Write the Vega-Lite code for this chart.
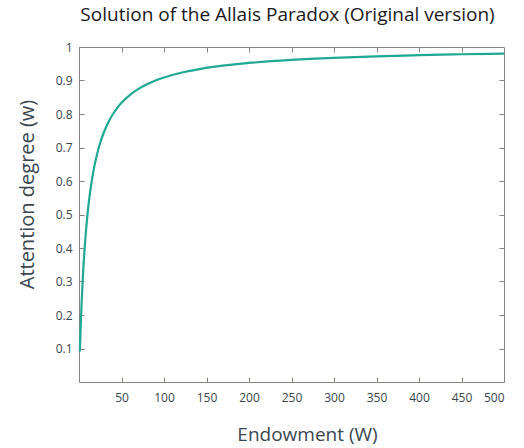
{
  "$schema": "https://vega.github.io/schema/vega-lite/v6.json",
  "autosize": "none",
  "width": 425,
  "height": 335,
  "padding": {"left": 79, "top": 47, "right": 20, "bottom": 66},
  "background": "white",
  "config": {
    "view": {"stroke": "#8a8380", "strokeWidth": 1},
    "font": "Open Sans"
  },
  "title": {
    "text": "Solution of the Allais Paradox (Original version)",
    "fontSize": 19,
    "fontWeight": "normal",
    "color": "#1a1a1a",
    "font": "Open Sans",
    "anchor": "middle",
    "offset": 16,
    "dx": -4
  },
  "data": {
    "values": [
      {"W": 1, "w": 0.0909},
      {"W": 2, "w": 0.1667},
      {"W": 3, "w": 0.2308},
      {"W": 4, "w": 0.2857},
      {"W": 5, "w": 0.3333},
      {"W": 6, "w": 0.375},
      {"W": 7, "w": 0.4118},
      {"W": 8, "w": 0.4444},
      {"W": 9, "w": 0.4737},
      {"W": 10, "w": 0.5},
      {"W": 12, "w": 0.5455},
      {"W": 14, "w": 0.5833},
      {"W": 16, "w": 0.6154},
      {"W": 18, "w": 0.6429},
      {"W": 20, "w": 0.6667},
      {"W": 23, "w": 0.697},
      {"W": 26, "w": 0.7222},
      {"W": 30, "w": 0.75},
      {"W": 35, "w": 0.7778},
      {"W": 40, "w": 0.8},
      {"W": 45, "w": 0.8182},
      {"W": 50, "w": 0.8333},
      {"W": 60, "w": 0.8571},
      {"W": 70, "w": 0.875},
      {"W": 80, "w": 0.8889},
      {"W": 90, "w": 0.9},
      {"W": 100, "w": 0.9091},
      {"W": 120, "w": 0.9231},
      {"W": 140, "w": 0.9333},
      {"W": 160, "w": 0.9412},
      {"W": 180, "w": 0.9474},
      {"W": 200, "w": 0.9524},
      {"W": 250, "w": 0.9615},
      {"W": 300, "w": 0.9677},
      {"W": 350, "w": 0.9722},
      {"W": 400, "w": 0.9756},
      {"W": 450, "w": 0.9783},
      {"W": 500, "w": 0.9804}
    ]
  },
  "resolve": {"axis": {"x": "independent", "y": "independent"}},
  "layer": [
    {
      "mark": {"type": "line", "color": "#1fa893", "strokeWidth": 2.2, "interpolate": "monotone"},
      "encoding": {
        "x": {
          "field": "W", "type": "quantitative",
          "scale": {"domain": [0, 500], "nice": false, "zero": false},
          "axis": {
            "title": "Endowment (W)",
            "values": [50, 100, 150, 200, 250, 300, 350, 400, 450, 500],
            "grid": false, "domain": false,
            "tickSize": -5, "tickColor": "#8a8380",
            "labelPadding": 15, "labelFontSize": 12, "labelColor": "#3a4650", "labelFont": "Open Sans",
            "titleFontSize": 19, "titleFontWeight": "normal", "titleColor": "#3a4650", "titleFont": "Open Sans",
            "titleX": 228, "titleY": 52, "titleBaseline": "middle", "titleAlign": "center"
          }
        },
        "y": {
          "field": "w", "type": "quantitative",
          "scale": {"domain": [0, 1], "nice": false, "zero": false},
          "axis": {
            "title": "Attention degree (w)",
            "values": [0.1, 0.2, 0.3, 0.4, 0.5, 0.6, 0.7, 0.8, 0.9, 1],
            "labelExpr": "datum.value == 1 ? '1' : format(datum.value, '.1f')",
            "grid": false, "domain": false,
            "tickSize": -5, "tickColor": "#8a8380",
            "labelPadding": 12, "labelFontSize": 12, "labelColor": "#3a4650", "labelFont": "Open Sans",
            "titleFontSize": 20, "titleFontWeight": "normal", "titleColor": "#3a4650", "titleFont": "Open Sans",
            "titleX": -52, "titleY": 147, "titleBaseline": "middle", "titleAlign": "center", "titleAngle": -90
          }
        }
      }
    },
    {
      "mark": {"type": "line", "opacity": 0},
      "encoding": {
        "x": {
          "field": "W", "type": "quantitative",
          "scale": {"domain": [0, 500], "nice": false, "zero": false},
          "axis": {
            "orient": "top", "title": null, "labels": false,
            "values": [50, 100, 150, 200, 250, 300, 350, 400, 450],
            "grid": false, "domain": false, "tickSize": -5, "tickColor": "#8a8380"
          }
        },
        "y": {
          "field": "w", "type": "quantitative",
          "scale": {"domain": [0, 1], "nice": false, "zero": false},
          "axis": {
            "orient": "right", "title": null, "labels": false,
            "values": [0.1, 0.2, 0.3, 0.4, 0.5, 0.6, 0.7, 0.8, 0.9],
            "grid": false, "domain": false, "tickSize": -5, "tickColor": "#8a8380"
          }
        }
      }
    }
  ]
}
